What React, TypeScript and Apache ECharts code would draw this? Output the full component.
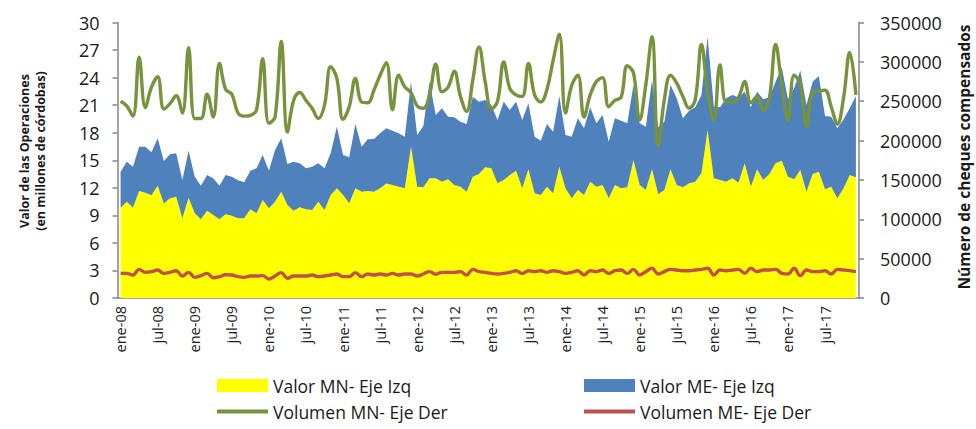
import React, { useEffect, useRef } from "react";
import * as echarts from "echarts";

const YEARS = ["08", "09", "10", "11", "12", "13", "14", "15", "16", "17"];
const MONTHS = ["ene", "feb", "mar", "abr", "may", "jun", "jul", "ago", "sep", "oct", "nov", "dic"];
const categories = YEARS.flatMap((y) => MONTHS.map((m) => `${m}-${y}`));

// Valor MN (millones de córdobas) - eje izquierdo
const valorMN = [
  9.83, 10.49, 9.83, 11.65, 11.47, 11.2, 12.23, 10.3, 10.85, 11.03, 8.68, 10.92,
  9.22, 8.57, 9.51, 9.04, 8.57, 9.11, 8.96, 8.68, 8.68, 9.66, 9.22, 10.67,
  9.77, 10.49, 11.58, 10.13, 9.51, 9.87, 9.66, 9.58, 10.49, 9.58, 11.22, 11.94,
  11.22, 10.31, 11.94, 11.58, 11.65, 11.58, 11.94, 12.48, 12.3, 12.12, 11.94, 16.48,
  12.12, 12.05, 13.03, 13.03, 12.67, 12.92, 12.3, 12.12, 11.58, 13.21, 13.5, 14.23,
  14.12, 12.49, 12.85, 13.39, 13.87, 11.94, 14.01, 11.4, 11.22, 12.12, 11.4, 14.3,
  11.94, 10.85, 11.76, 11.22, 12.67, 12.12, 12.31, 10.85, 12.31, 11.94, 12.05, 15.03,
  12.31, 11.76, 14.01, 11.33, 11.76, 14.01, 12.31, 12.05, 12.49, 12.67, 13.58, 18.29,
  13.03, 12.85, 12.67, 13.03, 12.56, 14.67, 12.12, 14.01, 12.85, 13.5, 14.67, 14.95,
  13.21, 12.92, 13.94, 11.58, 13.5, 13.75, 11.84, 12.12, 10.85, 11.94, 13.39, 13.14,
];

// Valor ME (millones de córdobas) - eje izquierdo, apilado
const valorME = [
  3.92, 4.35, 4.47, 4.83, 5.01, 4.66, 5.16, 4.62, 4.79, 4.72, 4.17, 5.12,
  3.99, 3.66, 3.88, 3.99, 3.66, 4.28, 4.25, 4.14, 3.92, 4.21, 4.9, 4.9,
  4.1, 5.63, 5.81, 4.46, 5.33, 4.79, 4.46, 4.72, 4.17, 4.54, 4.53, 6.71,
  4.35, 5.01, 7.01, 4.9, 5.63, 5.74, 5.99, 6.0, 5.92, 5.81, 5.63, 7.07,
  5.63, 6.68, 10.52, 6.9, 7.99, 6.82, 7.38, 7.08, 7.37, 8.71, 7.88, 7.33,
  6.9, 6.89, 8.53, 7.08, 7.51, 7.44, 7.19, 6.17, 5.91, 6.83, 6.71, 7.7,
  5.81, 6.72, 7.81, 7.26, 8.1, 6.9, 7.62, 6.17, 7.26, 7.37, 6.97, 8.16,
  6.71, 6.9, 9.73, 7.26, 7.44, 9.18, 9.43, 7.52, 7.91, 8.1, 8.52, 10.17,
  7.81, 7.92, 9.07, 9.07, 9.29, 7.8, 8.65, 8.46, 8.78, 8.35, 8.89, 10.17,
  8.42, 9.91, 10.82, 9.44, 10.06, 10.42, 7.98, 7.62, 7.63, 7.52, 7.27, 8.86,
];

// Volumen MN (número de cheques) - eje derecho
const volumenMN = [
  250000, 244000, 231000, 306000, 242000, 268000, 281000, 240000, 247000, 257000, 235000, 318000,
  228000, 228000, 259000, 230000, 298000, 265000, 259000, 235000, 231000, 232000, 239000, 304000,
  222000, 230000, 326000, 211000, 251000, 261000, 251000, 241000, 228000, 245000, 294000, 279000,
  227000, 243000, 279000, 249000, 248000, 264000, 283000, 299000, 239000, 283000, 268000, 261000,
  244000, 241000, 258000, 297000, 262000, 268000, 288000, 256000, 237000, 277000, 319000, 275000,
  240000, 250000, 300000, 266000, 258000, 256000, 298000, 258000, 249000, 265000, 302000, 335000,
  235000, 270000, 283000, 230000, 258000, 275000, 280000, 243000, 251000, 255000, 295000, 286000,
  226000, 271000, 332000, 193000, 252000, 283000, 273000, 256000, 241000, 252000, 322000, 262000,
  226000, 296000, 249000, 249000, 255000, 275000, 248000, 256000, 238000, 254000, 322000, 271000,
  226000, 283000, 271000, 218000, 261000, 263000, 264000, 243000, 221000, 254000, 312000, 258000,
];

// Volumen ME (número de cheques) - eje derecho
const volumenME = [
  31300, 31300, 29200, 36400, 32600, 33500, 35600, 31300, 32600, 34700, 27900, 32600,
  26200, 28400, 31300, 25800, 27100, 29600, 29200, 27100, 26200, 27900, 27900, 28400,
  24100, 27900, 32200, 25000, 27900, 27900, 27900, 29200, 27100, 27900, 29200, 30500,
  27100, 27100, 32200, 27100, 30500, 29200, 30500, 29200, 31300, 29200, 30500, 30500,
  27900, 30500, 33500, 30100, 32600, 32600, 32600, 33500, 29200, 36400, 33500, 32600,
  31300, 30500, 31300, 32600, 34700, 31300, 34700, 33500, 34700, 32600, 34700, 33500,
  31300, 32600, 34700, 29200, 34700, 33500, 35600, 31300, 34700, 35600, 31300, 36400,
  29200, 33500, 37700, 30500, 33500, 36400, 35600, 34700, 34700, 35600, 36400, 37700,
  29200, 35600, 34700, 35600, 36400, 31300, 37700, 33500, 35600, 35600, 36400, 31300,
  30500, 37700, 28400, 35600, 33500, 33500, 34700, 30500, 36400, 35600, 34700, 33500,
];

const LEFT_TITLE = ["Valor de las Operaciones", "(en millones de córdobas)"];
const RIGHT_TITLE = "Número de cheques compensados";

const FONT = "'Open Sans', sans-serif";
const AXIS_COLOR = "#868686";
const TEXT_COLOR = "#1a1a1a";

export default function App() {
  const ref = useRef<HTMLDivElement>(null);

  useEffect(() => {
    document.body.style.margin = "0";
    if (!ref.current) return;
    const chart = echarts.init(ref.current, null, { renderer: "svg" });
    const lineIcon = "path://M0,0H51V4H0Z";
    const legendBase = {
      orient: "vertical",
      top: 371,
      height: 60,
      itemWidth: 51,
      itemHeight: 13,
      itemGap: 7,
      textStyle: { fontFamily: FONT, fontSize: 17.5, color: TEXT_COLOR, lineHeight: 19 },
    };

    chart.setOption({
      animation: false,
      backgroundColor: "#ffffff",
      grid: { left: 117.5, right: 117, top: 22.5, bottom: 131, containLabel: false },
      legend: [
        {
          ...legendBase,
          left: 212,
          data: [
            { name: "Valor MN- Eje Izq", icon: "rect" },
            { name: "Volumen MN- Eje Der", icon: lineIcon },
          ],
        },
        {
          ...legendBase,
          left: 579,
          data: [
            { name: "Valor ME- Eje Izq", icon: "rect" },
            { name: "Volumen ME- Eje Der", icon: lineIcon },
          ],
        },
      ],
      xAxis: {
        type: "category",
        data: categories,
        boundaryGap: true,
        axisLine: { lineStyle: { color: AXIS_COLOR, width: 1.5 } },
        axisTick: { interval: 5, length: 5, lineStyle: { color: AXIS_COLOR, width: 1.5 } },
        axisLabel: {
          interval: 5,
          rotate: 90,
          margin: 8,
          fontFamily: FONT,
          fontSize: 14.5,
          color: TEXT_COLOR,
        },
        splitLine: { show: false },
      },
      yAxis: [
        {
          type: "value",
          min: 0,
          max: 30,
          interval: 3,
          position: "left",
          axisLine: { show: true, lineStyle: { color: AXIS_COLOR, width: 1.5 } },
          axisTick: { show: true, length: 5, lineStyle: { color: AXIS_COLOR, width: 1.5 } },
          axisLabel: { margin: 18, fontFamily: FONT, fontSize: 18, color: TEXT_COLOR },
          splitLine: { show: false },
        },
        {
          type: "value",
          min: 0,
          max: 350000,
          interval: 50000,
          position: "right",
          axisLine: { show: true, lineStyle: { color: AXIS_COLOR, width: 1.5 } },
          axisTick: { show: true, length: 5, lineStyle: { color: AXIS_COLOR, width: 1.5 } },
          axisLabel: {
            margin: 21,
            fontFamily: FONT,
            fontSize: 18,
            color: TEXT_COLOR,
            formatter: (v: number) => String(v),
          },
          splitLine: { show: false },
        },
      ],
      graphic: [
        {
          type: "text",
          x: 32,
          y: 151,
          rotation: Math.PI / 2,
          style: {
            text: LEFT_TITLE.join("\n"),
            fontFamily: FONT,
            fontSize: 12.5,
            fontWeight: "bold",
            fill: TEXT_COLOR,
            align: "center",
            verticalAlign: "middle",
            lineHeight: 16,
          },
        },
        {
          type: "text",
          x: 964,
          y: 157,
          rotation: Math.PI / 2,
          style: {
            text: RIGHT_TITLE,
            fontFamily: FONT,
            fontSize: 15.5,
            fontWeight: "bold",
            fill: TEXT_COLOR,
            align: "center",
            verticalAlign: "middle",
          },
        },
      ],
      series: [
        {
          name: "Valor MN- Eje Izq",
          type: "line",
          stack: "valor",
          yAxisIndex: 0,
          data: valorMN,
          showSymbol: false,
          symbol: "none",
          lineStyle: { width: 0 },
          itemStyle: { color: "#FFFF00" },
          areaStyle: { color: "#FFFF00", opacity: 1 },
          z: 1,
        },
        {
          name: "Valor ME- Eje Izq",
          type: "line",
          stack: "valor",
          yAxisIndex: 0,
          data: valorME,
          showSymbol: false,
          symbol: "none",
          lineStyle: { width: 0 },
          itemStyle: { color: "#4F81BD" },
          areaStyle: { color: "#4F81BD", opacity: 1 },
          z: 1,
        },
        {
          name: "Volumen MN- Eje Der",
          type: "line",
          yAxisIndex: 1,
          data: volumenMN,
          smooth: 0.4,
          showSymbol: false,
          symbol: "none",
          lineStyle: { width: 3.4, color: "#77933C" },
          itemStyle: { color: "#77933C" },
          z: 3,
        },
        {
          name: "Volumen ME- Eje Der",
          type: "line",
          yAxisIndex: 1,
          data: volumenME,
          smooth: 0.4,
          showSymbol: false,
          symbol: "none",
          lineStyle: { width: 3.4, color: "#C0504D" },
          itemStyle: { color: "#C0504D" },
          z: 3,
        },
      ],
    });

    return () => chart.dispose();
  }, []);

  return <div ref={ref} style={{ width: 976, height: 429 }} />;
}
